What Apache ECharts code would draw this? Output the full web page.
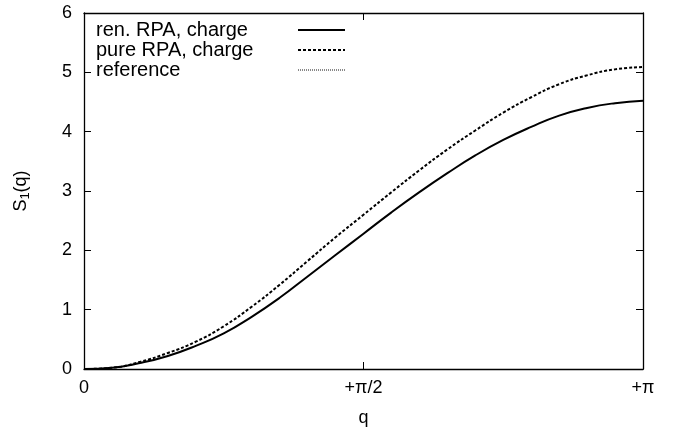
<!DOCTYPE html>
<html>
<head>
<meta charset="utf-8">
<script src="https://cdn.jsdelivr.net/npm/echarts@6/dist/echarts.min.js"></script>
<style>
  html, body { margin: 0; padding: 0; background: #fff; }
  #chart { width: 681px; height: 434px; }
</style>
</head>
<body>
<div id="chart"></div>
<script>
// q in units of pi
var qFrac = [0, 0.05, 0.1, 0.15, 0.2, 0.25, 0.3, 0.35, 0.4, 0.45, 0.5,
             0.55, 0.6, 0.65, 0.7, 0.75, 0.8, 0.85, 0.9, 0.95, 1];
// ren. RPA, charge (solid)
var renRPA = [0, 0.02, 0.1, 0.22, 0.39, 0.6, 0.88, 1.2, 1.56, 1.92, 2.28,
              2.64, 2.98, 3.3, 3.6, 3.86, 4.08, 4.27, 4.4, 4.48, 4.52];
// pure RPA, charge (dashed)
var pureRPA = [0, 0.02, 0.12, 0.27, 0.46, 0.72, 1.05, 1.42, 1.82, 2.22, 2.6,
               2.98, 3.35, 3.7, 4.02, 4.32, 4.58, 4.8, 4.95, 5.05, 5.09];
var seriesNames = ['ren. RPA, charge', 'pure RPA, charge', 'reference'];
var xTickLabels = {0: '0', 1: '+\u03c0/2', 2: '+\u03c0'};

function pairs(vals) {
  return qFrac.map(function (f, i) { return [f * Math.PI, vals[i]]; });
}

var chart = echarts.init(document.getElementById('chart'));
var font = 'Liberation Sans, Arial, sans-serif';
var axisLine = { show: true, onZero: false, lineStyle: { color: '#000', width: 1.3 } };
var axisTick = { show: true, inside: true, length: 7, lineStyle: { color: '#000' } };

var option = {
  animation: false,
  backgroundColor: '#fff',
  grid: { left: 84, right: 38, top: 13, bottom: 65 },
  legend: {
    left: 91, top: 15,
    orient: 'vertical',
    align: 'right',
    itemGap: 0,
    itemWidth: 47,
    itemHeight: 14,
    data: seriesNames,
    itemStyle: { opacity: 0 },
    formatter: function (name) { return '{t|' + name + '}'; },
    textStyle: {
      fontFamily: font, fontSize: 20, color: '#000',
      rich: { t: { fontFamily: font, fontSize: 20, color: '#000', width: 197, align: 'left', lineHeight: 17 } }
    }
  },
  xAxis: [{
    type: 'value', min: 0, max: Math.PI, interval: Math.PI / 2,
    name: 'q', nameLocation: 'middle', nameGap: 40,
    nameTextStyle: { fontFamily: font, fontSize: 18, color: '#000' },
    axisLine: axisLine, axisTick: axisTick,
    axisLabel: {
      fontFamily: font, fontSize: 18, color: '#000', margin: 10,
      formatter: function (v) { return xTickLabels[Math.round(v / (Math.PI / 2))]; }
    },
    splitLine: { show: false }
  }, {
    type: 'value', position: 'top', min: 0, max: Math.PI, interval: Math.PI / 2,
    axisLine: axisLine, axisTick: axisTick,
    axisLabel: { show: false }, splitLine: { show: false }
  }],
  yAxis: [{
    type: 'value', min: 0, max: 6, interval: 1,
    name: '{a|S}{b|1}{a|(q)}', nameLocation: 'middle', nameGap: 52,
    nameTextStyle: {
      rich: {
        a: { fontFamily: font, fontSize: 18, color: '#000' },
        b: { fontFamily: font, fontSize: 13, color: '#000', verticalAlign: 'bottom', padding: [8, 0, 0, 0] }
      }
    },
    axisLine: axisLine, axisTick: axisTick,
    axisLabel: { fontFamily: font, fontSize: 18, color: '#000', margin: 12 },
    splitLine: { show: false }
  }, {
    type: 'value', position: 'right', min: 0, max: 6, interval: 1,
    axisLine: axisLine, axisTick: axisTick,
    axisLabel: { show: false }, splitLine: { show: false }
  }],
  series: [{
    name: seriesNames[0], type: 'line', smooth: true, symbol: 'none',
    data: pairs(renRPA),
    lineStyle: { color: '#000', width: 2, type: 'solid' },
    itemStyle: { color: '#000' }
  }, {
    name: seriesNames[1], type: 'line', smooth: true, symbol: 'none',
    data: pairs(pureRPA),
    lineStyle: { color: '#000', width: 2, type: [3, 2] },
    itemStyle: { color: '#000' }
  }, {
    name: seriesNames[2], type: 'line', smooth: true, symbol: 'none',
    data: [],
    lineStyle: { color: '#888', width: 1, type: [1, 1] },
    itemStyle: { color: '#888' }
  }]
};

chart.setOption(option);
</script>
</body>
</html>
